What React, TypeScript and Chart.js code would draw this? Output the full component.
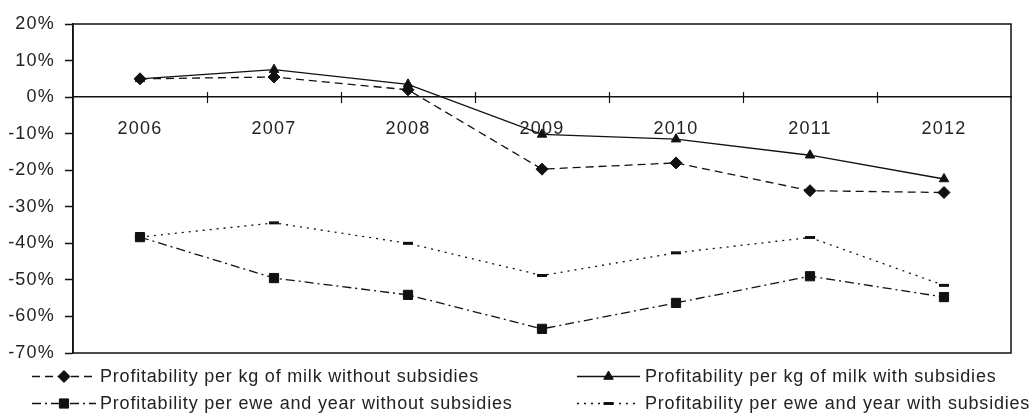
import React, { useEffect, useRef } from "react";
import { Chart, registerables } from "chart.js";
import { drawPoint } from "chart.js/helpers";

Chart.register(...registerables);

const years = ["2006", "2007", "2008", "2009", "2010", "2011", "2012"];

const milkWithoutSubsidies = [5, 5.5, 2, -19.7, -18, -25.6, -26.1];
const milkWithSubsidies = [5, 7.5, 3.5, -10.2, -11.5, -15.9, -22.4];
const eweWithoutSubsidies = [-38.3, -49.5, -54.1, -63.4, -56.3, -49, -54.7];
const eweWithSubsidies = [-38.3, -34.4, -40, -48.8, -42.6, -38.4, -51.5];

const seriesLabels = [
  "Profitability per kg of milk without subsidies",
  "Profitability per kg of milk with subsidies",
  "Profitability per ewe and year without subsidies",
  "Profitability per ewe and year with subsidies",
];

const yMin = -70;
const yMax = 20;
const yStep = 10;

const FONT = "'Liberation Sans', Arial, sans-serif";
const INK = "#111";
const TEXT = "#222";
const AXIS_SPACING = "1.2px";
const LEGEND_SPACING = "0.8px";

// Wider letter spacing for the axis text
const spacingPlugin = {
  id: "spacing",
  beforeUpdate(chart: any) {
    (chart.ctx as any).letterSpacing = AXIS_SPACING;
  },
  beforeDraw(chart: any) {
    (chart.ctx as any).letterSpacing = AXIS_SPACING;
  },
};

// Plot frame, crossing category ticks on the zero line, and a two-column legend
const decorPlugin = {
  id: "decor",
  afterDraw(chart: any) {
    const { ctx, chartArea } = chart;
    const xs = chart.scales.x;
    const ys = chart.scales.y;
    ctx.save();
    ctx.strokeStyle = INK;
    ctx.lineWidth = 1.5;
    ctx.setLineDash([]);
    ctx.strokeRect(chartArea.left, chartArea.top, chartArea.right - chartArea.left, chartArea.bottom - chartArea.top);

    const y0 = ys.getPixelForValue(0);
    ctx.lineWidth = 1.2;
    for (let i = 1; i < years.length; i++) {
      const x = Math.round((xs.getPixelForValue(i - 1) + xs.getPixelForValue(i)) / 2) + 0.5;
      ctx.beginPath();
      ctx.moveTo(x, y0 - 5);
      ctx.lineTo(x, y0 + 6);
      ctx.stroke();
    }

    // legend
    const cols = [
      { lineStart: 32, lineEnd: 96, text: 100 },
      { lineStart: 577, lineEnd: 640, text: 645 },
    ];
    const rows = [376, 403];
    ctx.font = `18px ${FONT}`;
    ctx.textBaseline = "middle";
    ctx.textAlign = "left";
    (ctx as any).letterSpacing = LEGEND_SPACING;
    chart.data.datasets.forEach((ds: any, i: number) => {
      const c = cols[i % 2];
      const y = rows[Math.floor(i / 2)] + 0.5;
      ctx.strokeStyle = ds.borderColor;
      ctx.lineWidth = ds.borderWidth;
      ctx.setLineDash(ds.borderDash || []);
      ctx.beginPath();
      ctx.moveTo(c.lineStart, y);
      ctx.lineTo(c.lineEnd, y);
      ctx.stroke();
      ctx.setLineDash([]);
      ctx.fillStyle = ds.pointBackgroundColor;
      ctx.strokeStyle = ds.pointBorderColor;
      ctx.lineWidth = ds.pointBorderWidth;
      drawPoint(
        ctx,
        { pointStyle: ds.pointStyle, radius: ds.pointRadius, rotation: 0, borderWidth: ds.pointBorderWidth },
        (c.lineStart + c.lineEnd) / 2,
        y
      );
      ctx.fillStyle = TEXT;
      ctx.fillText(ds.label, c.text, y + 1);
    });
    ctx.restore();
  },
};

export default function App() {
  const canvasRef = useRef<HTMLCanvasElement | null>(null);

  useEffect(() => {
    document.body.style.margin = "0";
    const canvas = canvasRef.current!;
    const base = {
      borderColor: INK,
      borderWidth: 1.3,
      pointBackgroundColor: INK,
      pointBorderColor: INK,
      pointBorderWidth: 1,
      fill: false,
      tension: 0,
    };
    const chart = new Chart(canvas, {
      type: "line",
      data: {
        labels: years,
        datasets: [
          { ...base, label: seriesLabels[0], data: milkWithoutSubsidies, borderDash: [8, 5], pointStyle: "rectRot", pointRadius: 6 },
          { ...base, label: seriesLabels[1], data: milkWithSubsidies, borderDash: [], pointStyle: "triangle", pointRadius: 5.5 },
          { ...base, label: seriesLabels[2], data: eweWithoutSubsidies, borderDash: [9, 4, 2, 4], pointStyle: "rect", pointRadius: 6.5 },
          { ...base, label: seriesLabels[3], data: eweWithSubsidies, borderDash: [2, 5], pointStyle: "line", pointRadius: 5, pointBorderWidth: 3 },
        ],
      },
      options: {
        responsive: false,
        animation: false,
        events: [],
        devicePixelRatio: 1,
        layout: { padding: { left: 0, top: 24, right: 20, bottom: 63 } },
        plugins: { legend: { display: false }, tooltip: { enabled: false } },
        scales: {
          x: {
            type: "category",
            position: { y: 0 } as any,
            offset: true,
            grid: { display: false, offset: true },
            border: { display: true, color: INK, width: 1.5 },
            ticks: { color: TEXT, font: { family: FONT, size: 18 }, padding: 13, maxRotation: 0 },
          },
          y: {
            min: yMin,
            max: yMax,
            afterFit: (scale: any) => {
              scale.width = 73;
            },
            grid: { display: true, drawOnChartArea: false, drawTicks: true, tickLength: 8, tickColor: INK, tickWidth: 1.5 },
            border: { display: true, color: INK, width: 1.5 },
            ticks: {
              stepSize: yStep,
              color: TEXT,
              padding: 10,
              font: { family: FONT, size: 18 },
              callback: (v: any) => `${v}%`,
            },
          },
        },
      },
      plugins: [spacingPlugin, decorPlugin],
    });
    return () => chart.destroy();
  }, []);

  return (
    <div style={{ position: "fixed", left: 0, top: 0, width: 1031, height: 416, background: "#fff" }}>
      <canvas ref={canvasRef} width={1031} height={416} />
    </div>
  );
}
